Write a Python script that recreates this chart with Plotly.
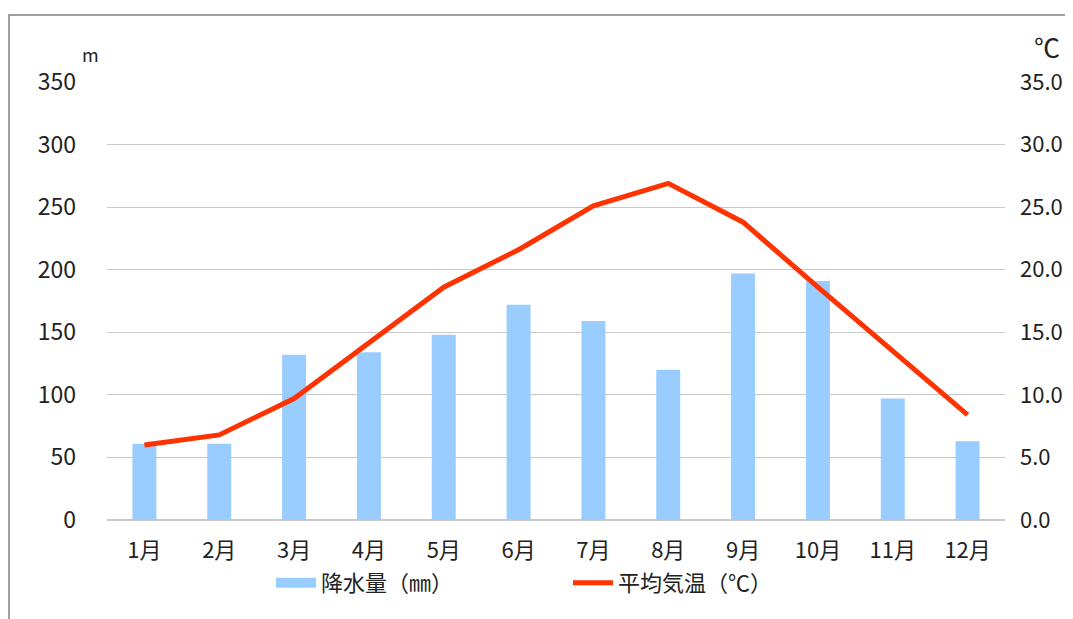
import plotly.graph_objects as go

months = ["1月", "2月", "3月", "4月", "5月", "6月", "7月", "8月", "9月", "10月", "11月", "12月"]
precip = [61, 61, 132, 134, 148, 172, 159, 120, 197, 191, 97, 63]
temp = [6.0, 6.8, 9.7, 14.2, 18.6, 21.6, 25.1, 26.9, 23.8, 18.6, 13.5, 8.4]
left_ticks = [0, 50, 100, 150, 200, 250, 300, 350]
right_ticks = [0, 5, 10, 15, 20, 25, 30, 35]

FONT = "Noto Sans CJK JP"
# page offset of the figure inside the browser (body margin)
OX, OY = 8, 8
W, H = 1073, 619
# desired plot area in page pixels
PL, PR, PT, PB = 107, 1005, 82, 520
PW, PH = PR - PL, PB - PT
ML, MT = PL - OX, PT - OY
MR = W - ML - PW
MB = H - MT - PH

def px_x(p):
    return (p - PL) / PW

def px_y(p):
    return (PB - p) / PH

fig = go.Figure()
fig.add_trace(go.Bar(
    x=months, y=precip, name="降水量（㎜）",
    marker=dict(color="#99CCFF", line=dict(width=0)),
    yaxis="y", showlegend=False,
))
# legend entry for precipitation drawn as a wide swatch
fig.add_trace(go.Scatter(
    x=[None], y=[None], name="降水量（㎜）", mode="lines",
    line=dict(color="#99CCFF", width=10), yaxis="y",
))
fig.add_trace(go.Scatter(
    x=months, y=temp, name="平均気温（℃）", mode="lines",
    line=dict(color="#FF3300", width=5),
    yaxis="y2",
))

fig.update_layout(
    width=W, height=H,
    margin=dict(l=ML, r=MR, t=MT, b=MB),
    paper_bgcolor="white", plot_bgcolor="white",
    font=dict(family=FONT, size=22, color="#222222"),
    bargap=0.68,
    showlegend=True,
    legend=dict(
        orientation="h", x=0.5 + 12 / PW, xanchor="center",
        y=px_y(583), yanchor="middle",
        font=dict(family=FONT, size=22, color="#222222"),
        entrywidth=242, itemwidth=40,
    ),
    xaxis=dict(
        showgrid=False, showline=False, ticks="",
        tickfont=dict(family=FONT, size=22, color="#222222"),
        ticklabelstandoff=15,
    ),
    yaxis=dict(
        range=[0, 350], tickvals=left_ticks,
        showgrid=True, gridcolor="#C8C8C8", gridwidth=1,
        zeroline=True, zerolinecolor="#C8C8C8", zerolinewidth=2,
        showline=False, ticks="",
        tickfont=dict(family=FONT, size=23, color="#222222"),
        ticklabelstandoff=30,
    ),
    yaxis2=dict(
        range=[0, 35], tickvals=right_ticks, tickformat=".1f",
        overlaying="y", side="right",
        showgrid=False, zeroline=False, showline=False, ticks="",
        tickfont=dict(family=FONT, size=22, color="#222222"),
        ticklabelstandoff=14,
    ),
    shapes=[dict(
        type="rect", xref="paper", yref="paper",
        x0=px_x(9), x1=px_x(1200), y0=px_y(700), y1=px_y(15),
        line=dict(color="#808080", width=1.5), fillcolor="rgba(0,0,0,0)",
        layer="above",
    )],
    annotations=[
        dict(text="m", xref="paper", yref="paper", x=px_x(90), y=px_y(54),
             showarrow=False, font=dict(family=FONT, size=18, color="#222222"),
             xanchor="center", yanchor="middle"),
        dict(text="℃", xref="paper", yref="paper", x=px_x(1062), y=px_y(47),
             showarrow=False, font=dict(family=FONT, size=26, color="#222222"),
             xanchor="right", yanchor="middle"),
    ],
)

fig.write_html("out.html")
